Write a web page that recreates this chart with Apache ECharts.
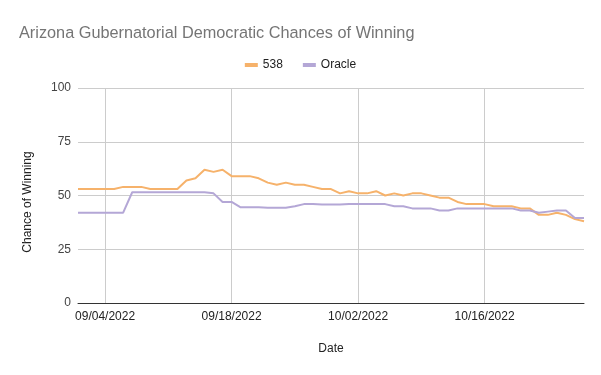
<!DOCTYPE html>
<html><head><meta charset="utf-8">
<script src="https://cdn.jsdelivr.net/npm/echarts@6/dist/echarts.min.js"></script>
<style>html,body{margin:0;padding:0;background:#fff}#c{width:601px;height:375px}</style>
</head><body><div id="c"></div>
<script>
var dates = ["09/01/2022","09/02/2022","09/03/2022","09/04/2022","09/05/2022","09/06/2022","09/07/2022","09/08/2022","09/09/2022","09/10/2022",
"09/11/2022","09/12/2022","09/13/2022","09/14/2022","09/15/2022","09/16/2022","09/17/2022","09/18/2022","09/19/2022","09/20/2022",
"09/21/2022","09/22/2022","09/23/2022","09/24/2022","09/25/2022","09/26/2022","09/27/2022","09/28/2022","09/29/2022","09/30/2022",
"10/01/2022","10/02/2022","10/03/2022","10/04/2022","10/05/2022","10/06/2022","10/07/2022","10/08/2022","10/09/2022","10/10/2022",
"10/11/2022","10/12/2022","10/13/2022","10/14/2022","10/15/2022","10/16/2022","10/17/2022","10/18/2022","10/19/2022","10/20/2022",
"10/21/2022","10/22/2022","10/23/2022","10/24/2022","10/25/2022","10/26/2022","10/27/2022"];
var fiveThirtyEight = [53,53,53,53,53,54,54,54,53,53,
53,53,57,58,62,61,62,59,59,59,
58,56,55,56,55,55,54,53,53,51,
52,51,51,52,50,51,50,51,51,50,
49,49,47,46,46,46,45,45,45,44,
44,41,41,42,41,39,38];
var oracle = [42,42,42,42,42,42,51.5,51.5,51.5,51.5,
51.5,51.5,51.5,51.5,51.5,51,47,47,44.5,44.5,
44.5,44.3,44.3,44.3,45,46,46,45.8,45.8,45.8,
46,46,46,46,46,45,45,44,44,44,
43,43,44,44,44,44,44,44,44,43,
43,42,42.5,43,43,39.5,39.5];
var yTicks = [0,25,50,75,100];
var labelIdx = function(i){ return (i - 3) % 14 === 0; };
var FONT = '"Liberation Sans", Arial, sans-serif';

var chart = echarts.init(document.getElementById('c'), null, {renderer:'canvas'});
chart.setOption({
  animation:false,
  textStyle:{fontFamily:FONT},
  title:{text:'Arizona Gubernatorial Democratic Chances of Winning', left:14, top:21,
    textStyle:{fontFamily:FONT, fontSize:16.3, fontWeight:'normal', color:'#757575'}},
  legend:{top:54, left:'center', itemWidth:13, itemHeight:4, itemGap:20, icon:'rect',
    textStyle:{fontFamily:FONT, fontSize:12, color:'#222'},
    data:['538','Oracle']},
  grid:{left:78, right:17, top:88, bottom:72, containLabel:false},
  graphic:[{type:'text', x:28, y:202, rotation:Math.PI/2,
    style:{text:'Chance of Winning', font:'12px ' + FONT, fill:'#222', textAlign:'center', textVerticalAlign:'middle'}}],
  xAxis:{type:'category', data:dates, boundaryGap:false,
    name:'Date', nameLocation:'middle', nameGap:40, nameTextStyle:{fontFamily:FONT, fontSize:12, color:'#222'},
    axisLine:{show:true, lineStyle:{color:'#333', width:1}},
    axisTick:{show:false},
    axisLabel:{interval:function(i){return labelIdx(i);}, color:'#222', fontFamily:FONT, fontSize:12, margin:8},
    splitLine:{show:true, interval:function(i){return labelIdx(i);}, lineStyle:{color:'#cccccc', width:1}}
  },
  yAxis:{type:'value', min:yTicks[0], max:yTicks[yTicks.length-1], interval:25,
    axisLine:{show:false}, axisTick:{show:false},
    axisLabel:{color:'#444', fontFamily:FONT, fontSize:12, margin:7},
    splitLine:{show:true, lineStyle:{color:'#cccccc', width:1}}
  },
  series:[
    {name:'538', type:'line', data:fiveThirtyEight, showSymbol:false, symbol:'none',
      lineStyle:{color:'#f6b26b', width:2}, itemStyle:{color:'#f6b26b'}},
    {name:'Oracle', type:'line', data:oracle, showSymbol:false, symbol:'none',
      lineStyle:{color:'#b4a7d6', width:2}, itemStyle:{color:'#b4a7d6'}}
  ]
});
</script></body></html>
